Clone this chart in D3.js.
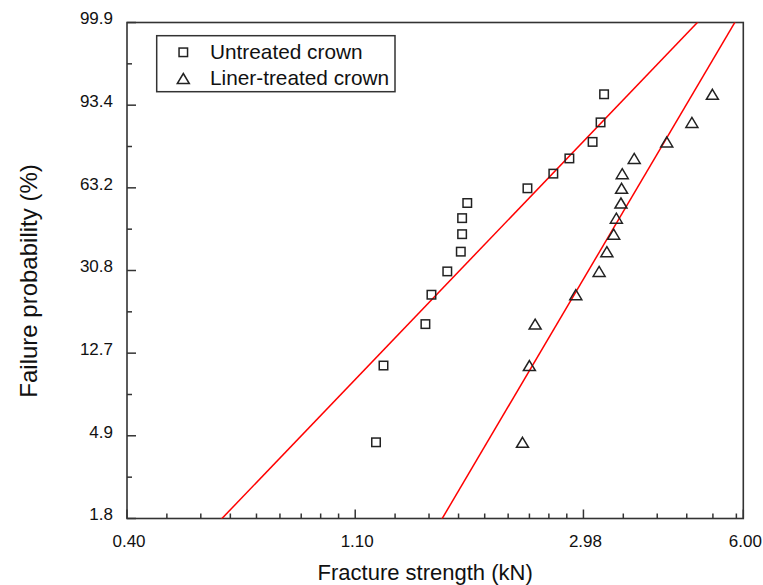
<!DOCTYPE html>
<html><head><meta charset="utf-8">
<script src="https://cdn.jsdelivr.net/npm/d3@7"></script>
<style>body{margin:0;background:#fff}svg{display:block}text{font-family:"Liberation Sans",Arial,sans-serif;fill:#111}</style>
</head><body><svg id="c" width="763" height="585"></svg>
<script>
// ---- data ----
const seriesNames = ["Untreated crown", "Liner-treated crown"];
const failureProb = [4.5, 11.0, 17.5, 24.0, 30.5, 37.0, 43.5, 50.0, 56.5, 63.0, 69.5, 76.0, 82.5, 89.0, 95.5];
const untreatedStrength = [1.20, 1.24, 1.49, 1.53, 1.64, 1.74, 1.75, 1.75, 1.79, 2.33, 2.61, 2.80, 3.10, 3.21, 3.26];
const linerStrength = [2.28, 2.35, 2.41, 2.88, 3.19, 3.30, 3.40, 3.44, 3.51, 3.52, 3.53, 3.72, 4.29, 4.79, 5.24];
const weibullModulus = [2.88, 4.68];
const characteristicStrength = [2.45, 3.77];
const xTickValues = [0.403, 1.0955, 2.978, 6.00];
const yTickProb = [1.815, 4.86, 12.66, 30.78, 63.21, 93.40, 99.938];

// ---- layout ----
const L = 127, R = 743.3, T = 22.5, B = 518.5;
const svg = d3.select("#c");
const weib = F => Math.log(-Math.log(1 - F / 100));
const x = d3.scaleLog().domain([xTickValues[0], xTickValues[xTickValues.length - 1]]).range([L, R]);
const y = d3.scaleLinear().domain([-4, 2]).range([B, T]);

svg.append("clipPath").attr("id", "pc").append("rect")
  .attr("x", L).attr("y", T).attr("width", R - L).attr("height", B - T);

// minor ticks x: linear steps within each e-fold interval
const xMinor = [];
for (let k = 0; k < 3; k++) {
  const base = xTickValues[0] * Math.exp(k);
  const step = base * (Math.E - 1) / 9;
  for (let j = 1; j <= 8; j++) { const v = base + j * step; if (v < xTickValues[3] - 0.05) xMinor.push(v); }
}
const axisColor = "#333";
const g = svg.append("g");
g.selectAll(".xmaj").data(xTickValues).join("line")
  .attr("x1", d => x(d)).attr("x2", d => x(d)).attr("y1", B).attr("y2", B - 9)
  .attr("stroke", axisColor).attr("stroke-width", 1.5);
g.selectAll(".xmin").data(xMinor).join("line")
  .attr("x1", d => x(d)).attr("x2", d => x(d)).attr("y1", B).attr("y2", B - 5)
  .attr("stroke", axisColor).attr("stroke-width", 1.5);
g.selectAll(".xlab").data(xTickValues).join("text")
  .attr("x", d => x(d) + 2).attr("y", 547).attr("text-anchor", "middle")
  .attr("font-size", 17).text(d => d3.format(".2f")(d));
g.selectAll(".ymaj").data(yTickProb).join("line")
  .attr("x1", L).attr("x2", L + 9).attr("y1", d => y(weib(d))).attr("y2", d => y(weib(d)))
  .attr("stroke", axisColor).attr("stroke-width", 1.5);
g.selectAll(".ymin").data(d3.range(-3.5, 2, 1)).join("line")
  .attr("x1", L).attr("x2", L + 5).attr("y1", d => y(d)).attr("y2", d => y(d))
  .attr("stroke", axisColor).attr("stroke-width", 1.5);
g.selectAll(".ylab").data(yTickProb).join("text")
  .attr("x", 113).attr("y", d => y(weib(d)) - 4).attr("dy", "0.35em").attr("text-anchor", "end")
  .attr("font-size", 17).text(d => d3.format(".1f")(d));

svg.append("rect").attr("x", L).attr("y", T).attr("width", R - L).attr("height", B - T)
  .attr("fill", "none").attr("stroke", axisColor).attr("stroke-width", 1.6);

// fit lines
const fits = weibullModulus.map((m, i) => {
  const x0 = characteristicStrength[i];
  return [-4.2, 2.2].map(v => [x0 * Math.exp(v / m), v]);
});
svg.append("g").attr("clip-path", "url(#pc)").selectAll("path").data(fits).join("path")
  .attr("d", d3.line().x(d => x(d[0])).y(d => y(d[1])))
  .attr("stroke", "#ff0000").attr("stroke-width", 1.5).attr("fill", "none");

// markers
const sq = 8.5, triW = 12, triH = 10;
const triPath = (cx, cy) => `M${cx},${cy - triH / 2}L${cx + triW / 2},${cy + triH / 2}L${cx - triW / 2},${cy + triH / 2}Z`;
svg.append("g").selectAll("rect").data(untreatedStrength).join("rect")
  .attr("x", d => x(d) - sq / 2).attr("y", (d, i) => y(weib(failureProb[i])) - sq / 2)
  .attr("width", sq).attr("height", sq).attr("fill", "none").attr("stroke", "#222").attr("stroke-width", 1.5);
svg.append("g").selectAll("path").data(linerStrength).join("path")
  .attr("d", (d, i) => triPath(x(d), y(weib(failureProb[i]))))
  .attr("fill", "none").attr("stroke", "#222").attr("stroke-width", 1.5);

// legend
const lg = svg.append("g");
lg.append("rect").attr("x", 156.7).attr("y", 35.7).attr("width", 238.3).attr("height", 56)
  .attr("fill", "#fff").attr("stroke", axisColor).attr("stroke-width", 1.5);
lg.append("rect").attr("x", 183.3 - sq / 2).attr("y", 52.3 - sq / 2).attr("width", sq).attr("height", sq)
  .attr("fill", "none").attr("stroke", "#222").attr("stroke-width", 1.5);
lg.append("path").attr("d", triPath(183.3, 78.5)).attr("fill", "none").attr("stroke", "#222").attr("stroke-width", 1.5);
lg.selectAll("text").data(seriesNames).join("text")
  .attr("x", 210).attr("y", (d, i) => 59.3 + i * 25.5).attr("font-size", 20.8).text(d => d);

// axis titles
svg.append("text").attr("x", (L + R) / 2 - 10).attr("y", 580).attr("text-anchor", "middle")
  .attr("font-size", 22).text("Fracture strength (kN)");
svg.append("text").attr("transform", "translate(37,281) rotate(-90)").attr("text-anchor", "middle")
  .attr("font-size", 24).text("Failure probability (%)");
</script></body></html>
